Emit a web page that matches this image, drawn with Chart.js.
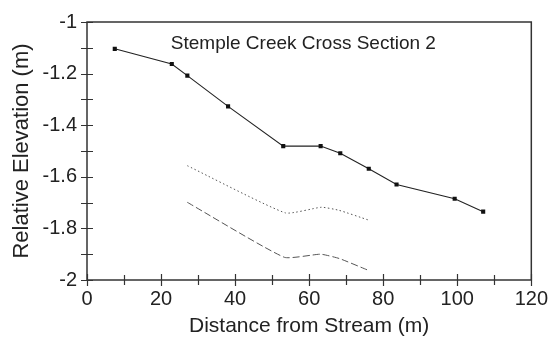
<!DOCTYPE html>
<html><head><meta charset="utf-8">
<script src="https://cdn.jsdelivr.net/npm/chart.js@4/dist/chart.umd.min.js"></script>
<style>html,body{margin:0;padding:0;background:#fff}#wrap{width:555px;height:340px}</style>
</head><body><div id="wrap"><canvas id="c" width="555" height="340"></canvas></div>
<script>
const chartTitle = "Stemple Creek Cross Section 2";
const xTitle = "Distance from Stream (m)";
const yTitle = "Relative Elevation (m)";
const surfaceX = [7.5, 22.9, 27.1, 38.1, 53.0, 63.1, 68.4, 76.1, 83.6, 99.3, 107.0];
const surfaceY = [-1.104, -1.163, -1.208, -1.327, -1.481, -1.481, -1.509, -1.569, -1.630, -1.685, -1.735];
const dottedX = [27.1, 53.6, 63.3, 68.1, 75.9];
const dottedY = [-1.557, -1.740, -1.718, -1.730, -1.767];
const dashedX = [27.1, 53.3, 63.1, 68.2, 75.9];
const dashedY = [-1.699, -1.912, -1.900, -1.917, -1.962];
const xMin = 0, xMax = 120, xStep = 10, xLabelEvery = 20;
const yMin = -2, yMax = -1, yStep = 0.1;

const pts = (xs, ys) => xs.map((x, i) => ({x: x, y: ys[i]}));
const FONT = "'Liberation Sans', Arial, sans-serif";

const framePlugin = {
  id: 'frame',
  afterDraw(chart) {
    const {ctx, chartArea: a, scales} = chart;
    ctx.save();
    ctx.strokeStyle = '#333';
    ctx.lineWidth = 1.5;
    ctx.strokeRect(a.left, a.top, a.right - a.left, a.bottom - a.top);
    ctx.lineWidth = 1.2;
    ctx.beginPath();
    scales.x.ticks.forEach(t => {
      const px = Math.round(scales.x.getPixelForValue(t.value)) + 0.5;
      const major = Math.round(t.value) % xLabelEvery === 0;
      const l = major ? 6 : 5;
      ctx.moveTo(px, a.bottom - l); ctx.lineTo(px, a.bottom + l);
    });
    scales.y.ticks.forEach(t => {
      const py = Math.round(scales.y.getPixelForValue(t.value)) + 0.5;
      ctx.moveTo(a.left - 6, py); ctx.lineTo(a.left + 6, py);
    });
    ctx.stroke();
    ctx.fillStyle = '#222';
    ctx.font = "19px " + FONT;
    ctx.textAlign = 'center';
    ctx.textBaseline = 'alphabetic';
    ctx.fillText(chartTitle, a.left + (a.right - a.left) * 0.487, a.top + 27);
    ctx.restore();
  }
};

new Chart(document.getElementById('c'), {
  type: 'scatter',
  data: {
    datasets: [
      {data: pts(surfaceX, surfaceY), showLine: true, borderColor: '#222', borderWidth: 1.1,
       pointStyle: 'rect', pointRadius: 2.9, pointBackgroundColor: '#111', pointBorderColor: '#111', pointBorderWidth: 0},
      {data: pts(dottedX, dottedY), showLine: true, borderColor: '#555', borderWidth: 1, borderDash: [1.5, 2.5],
       pointRadius: 0, tension: 0.15},
      {data: pts(dashedX, dashedY), showLine: true, borderColor: '#555', borderWidth: 1, borderDash: [7, 3],
       pointRadius: 0, tension: 0.15}
    ]
  },
  plugins: [framePlugin],
  options: {
    responsive: false,
    animation: false,
    devicePixelRatio: 1,
    layout: {padding: {top: 20, right: 17, left: 0, bottom: 0}},
    plugins: {legend: {display: false}, tooltip: {enabled: false}, title: {display: false}},
    scales: {
      x: {
        type: 'linear', min: xMin, max: xMax,
        afterFit(s) { s.height = 60; },
        grid: {display: false, drawTicks: false},
        border: {display: false},
        ticks: {stepSize: xStep, padding: 7, color: '#222', font: {family: FONT, size: 20}, maxRotation: 0, autoSkip: false,
          callback: v => (Math.round(v) % xLabelEvery === 0 ? String(v) : '')},
        title: {display: true, text: xTitle, color: '#222', font: {family: FONT, size: 21}, padding: {top: 0, bottom: 1}}
      },
      y: {
        type: 'linear', min: yMin, max: yMax,
        afterFit(s) { s.width = 87; },
        grid: {display: false, drawTicks: false},
        border: {display: false},
        ticks: {stepSize: yStep, padding: 10, color: '#222', font: {family: FONT, size: 20}, autoSkip: false,
          callback: v => { const r = Math.round(v * 10); return r % 2 === 0 ? String(r / 10) : ''; }},
        title: {display: true, text: yTitle, color: '#222', font: {family: FONT, size: 22}, padding: {top: 9, bottom: 0}}
      }
    }
  }
});
</script></body></html>
